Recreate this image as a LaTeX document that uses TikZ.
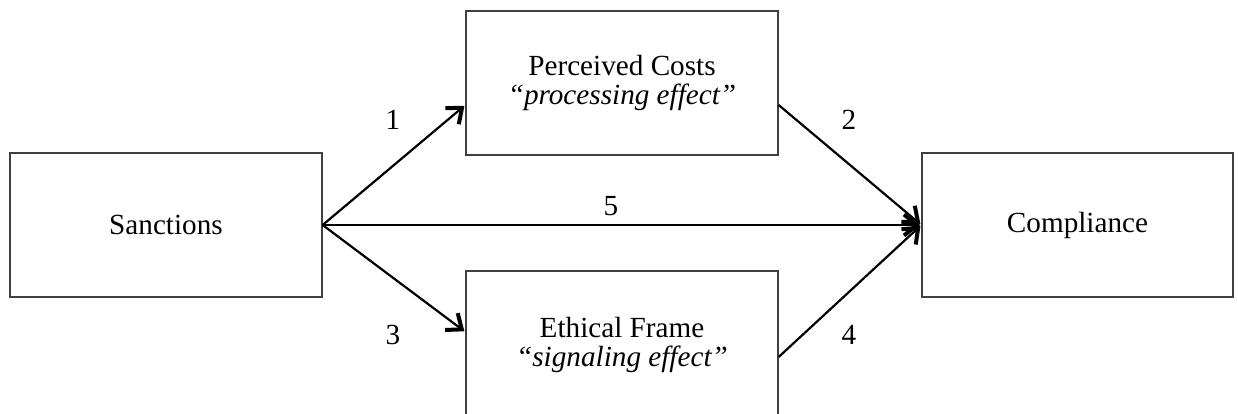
\documentclass[tikz,border=0pt]{standalone}
\usepackage{fontspec}
\setmainfont{Liberation Serif}
\usetikzlibrary{arrows.meta}
\begin{document}
\begin{tikzpicture}[x=0.5pt,y=-0.5pt,
  box/.style={draw=black!75, line width=0.65pt, minimum width=156pt, minimum height=72pt, inner sep=0pt, align=center, font=\fontsize{14.6}{14.2}\selectfont},
  conn/.style={line width=1.1pt, -{Straight Barb[length=6.5pt,width=10.5pt,line width=2pt]}, shorten >=0.6pt},
  lab/.style={font=\fontsize{14.6}{16}\selectfont, inner sep=0pt}]
\useasboundingbox (0,0) rectangle (1238,413);
\clip (0,0) rectangle (1238,413);
\node[box] (S) at (166,225) {Sanctions};
\node[box] (P) at (622,83) {\rule{0pt}{6pt}Perceived Costs\\[0.3pt]\textit{“processing effect”}};
\node[box, minimum height=74pt] (E) at (622,345) {Ethical Frame\\[0.3pt]\textit{“signaling effect”}};
\node[box, minimum width=155.5pt] (C) at (1077.5,225) {Compliance};
\draw[conn] (S.east) -- ([yshift=-11pt]P.west);
\draw[conn] ([yshift=-11pt]P.east) -- (C.west);
\draw[conn] (S.east) -- ([yshift=6.5pt]E.west);
\draw[conn] ([yshift=-6pt]E.east) -- (C.west);
\draw[conn] (S.east) -- (C.west);
\node[lab] (l1) at (393,120) {1};
\node[lab] (l2) at (849,120) {2};
\node[lab] (l3) at (393,335) {3};
\node[lab] (l4) at (849,335) {4};
\node[lab] (l5) at (611,206) {5};
\end{tikzpicture}
\end{document}
